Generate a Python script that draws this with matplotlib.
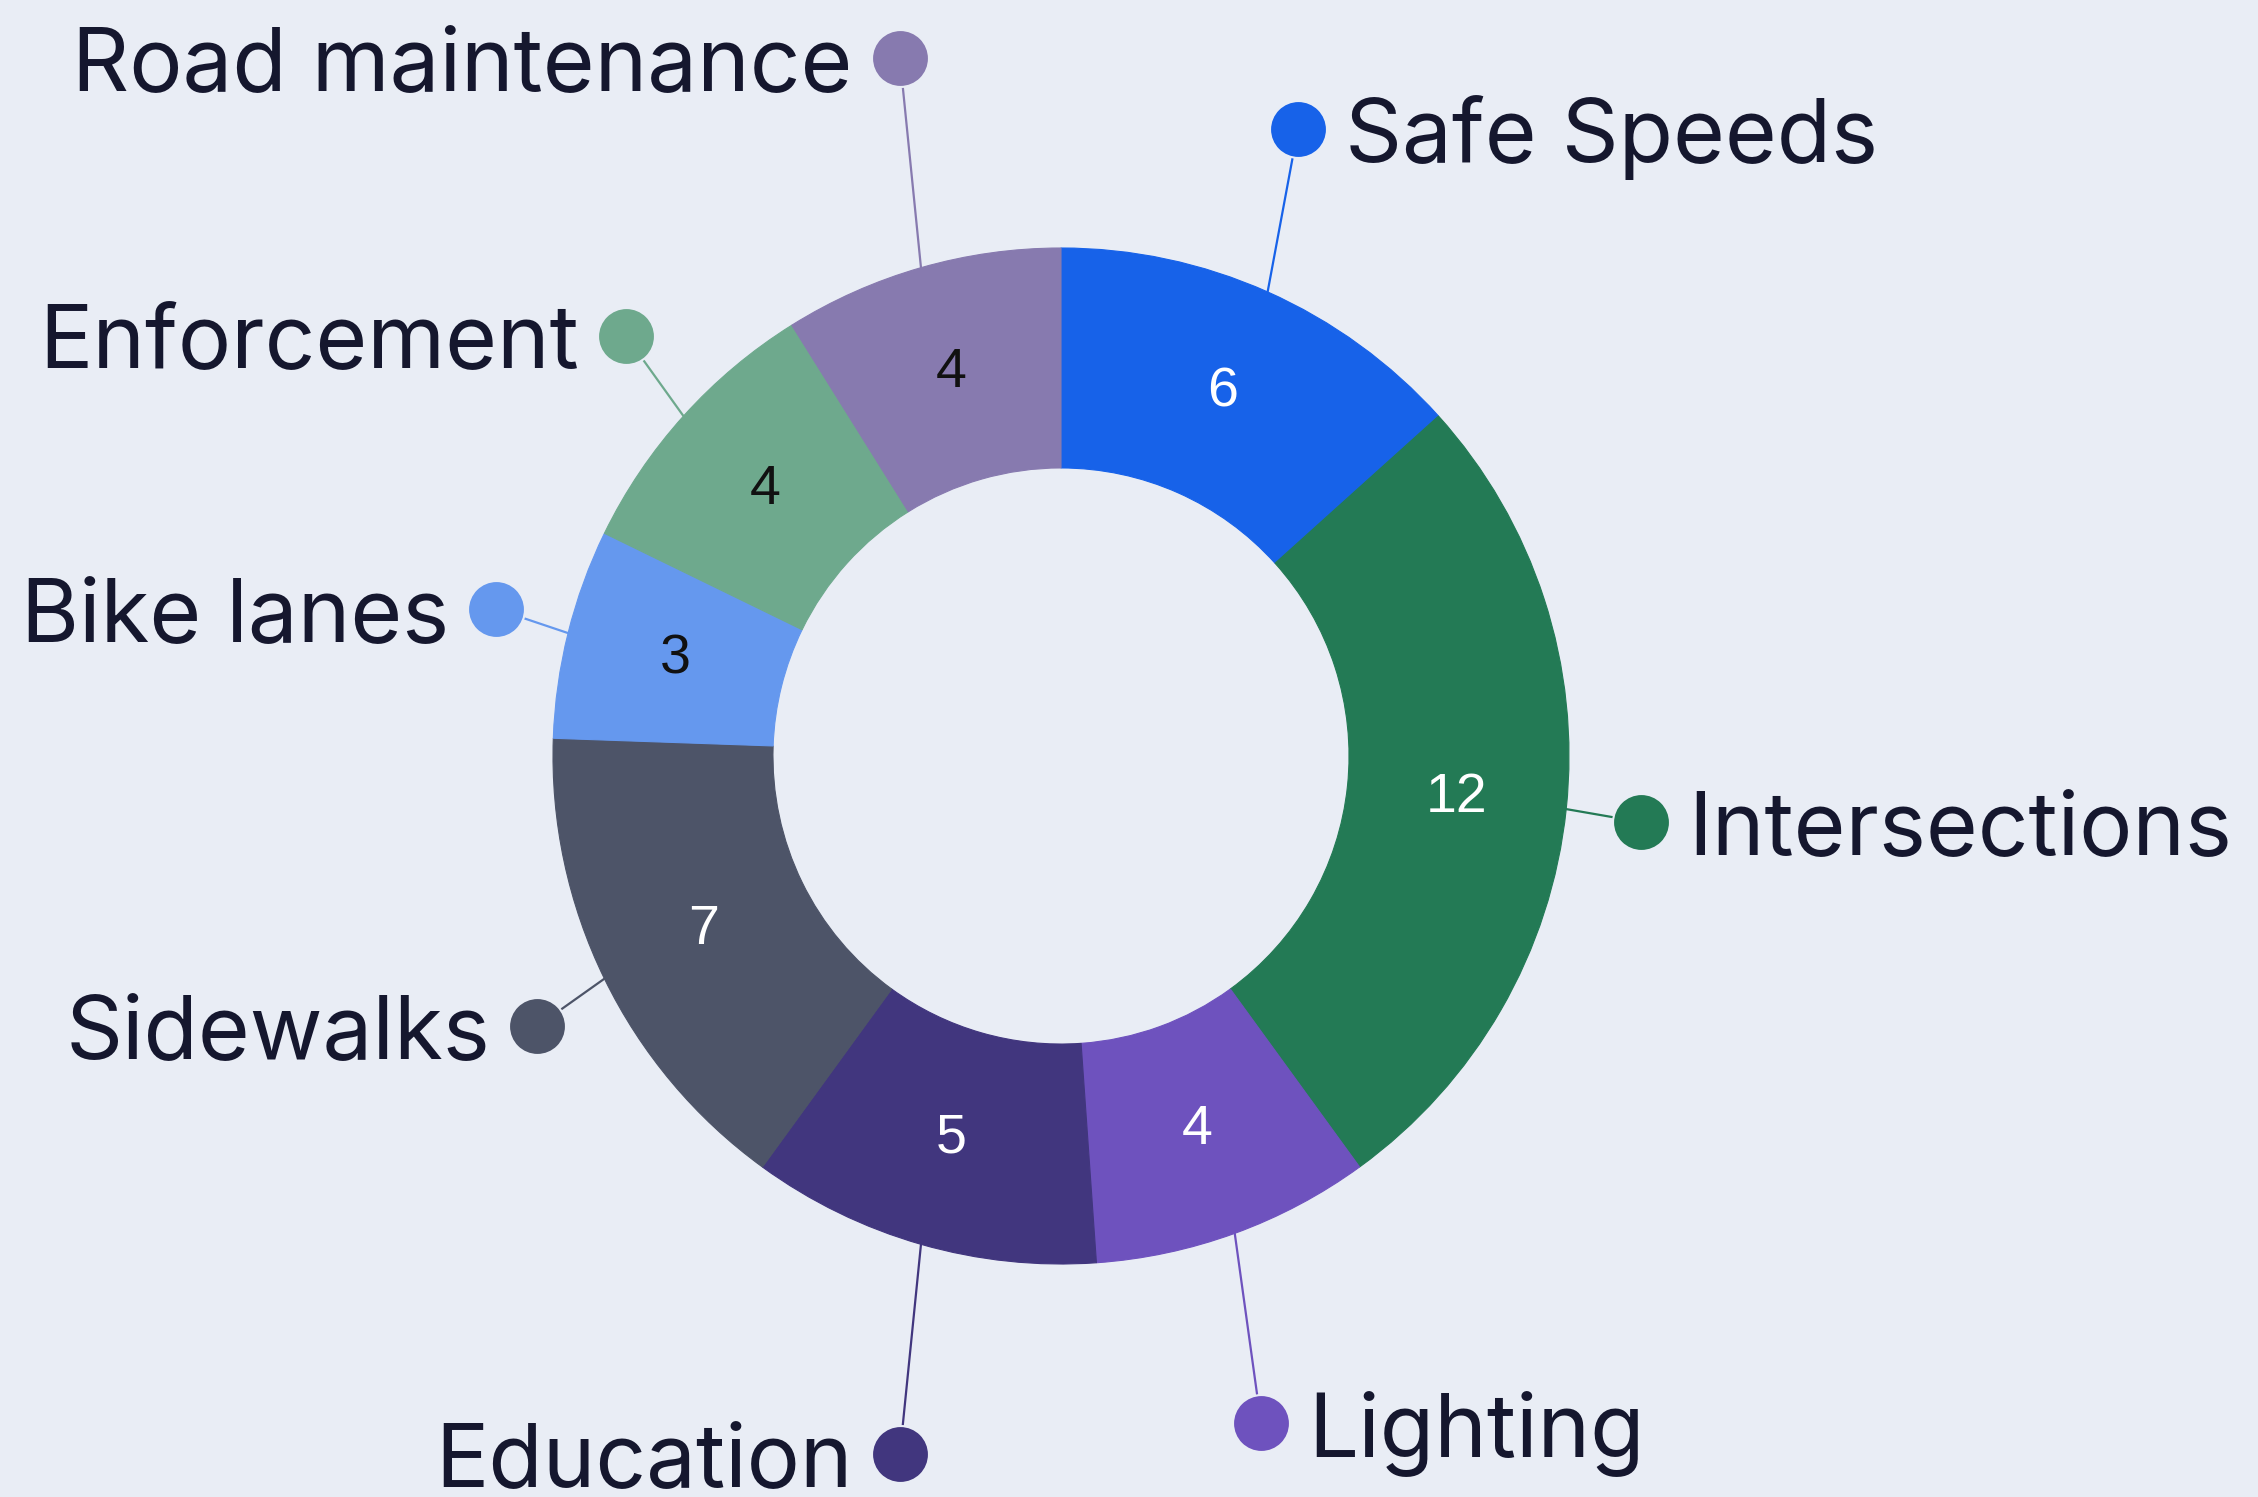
import numpy as np
import matplotlib
matplotlib.use('Agg')
import matplotlib.pyplot as plt

# data, clockwise from 12 o'clock
categories = ['Safe Speeds', 'Intersections', 'Lighting', 'Education',
              'Sidewalks', 'Bike lanes', 'Enforcement', 'Road maintenance']
values = [6, 12, 4, 5, 7, 3, 4, 4]

colors = ['#1762E9', '#237A55', '#6E52BE', '#41367E',
          '#4D5468', '#6598EE', '#6EA98D', '#877AAF']
value_colors = ['white', 'white', 'white', 'white',
                'white', '#111111', '#111111', '#111111']

# label layout: distance of the dot (in radii) and small angle nudge (deg)
label_dist = [1.32, 1.15, 1.37, 1.41, 1.16, 1.15, 1.19, 1.41]
label_nudge = [-3.3, 0.5, 3.3, -3.0, -1.3, 0.6, 2.0, 3.0]

BG = '#E9EDF5'
TXT = '#15172E'
W, H = 2258, 1497
CX, CY, R = 1061, 756, 508   # centre and outer radius in pixels
HOLE = 0.567

plt.rcParams['font.family'] = ['Inter', 'DejaVu Sans']

fig = plt.figure(figsize=(W / 100, H / 100), dpi=100, facecolor=BG)
ax = fig.add_axes([0, 0, 1, 1])
ax.set_facecolor(BG)

wedges, _ = ax.pie(values, colors=colors, startangle=90, counterclock=False,
                   radius=1, wedgeprops=dict(width=1 - HOLE, linewidth=0.8))
for w in wedges:
    w.set_edgecolor(w.get_facecolor())

ax.set_xlim(-CX / R, (W - CX) / R)
ax.set_ylim(-(H - CY) / R, CY / R)
ax.axis('off')

total = float(sum(values))
start = 0.0
mid_r = (1 + HOLE) / 2
for i, v in enumerate(values):
    mid = start + v / total * 360 / 2   # clockwise from top
    start += v / total * 360
    th = np.radians(mid)
    # value inside ring
    ax.text(mid_r * np.sin(th), mid_r * np.cos(th), str(v), color=value_colors[i],
            fontsize=40, ha='center', va='center', family='Liberation Sans')
    # leader + dot + label
    th2 = np.radians(mid + label_nudge[i])
    dx, dy = label_dist[i] * np.sin(th2), label_dist[i] * np.cos(th2)
    ex, ey = np.sin(th), np.cos(th)
    ax.plot([ex, dx], [ey, dy], color=colors[i], lw=1.6, zorder=3,
            solid_capstyle='round')
    ax.plot(dx, dy, 'o', ms=41, color=colors[i], mec=BG, mew=1.5, zorder=4)
    off = 47 / R
    if dx >= 0:
        ax.text(dx + off, dy, categories[i], ha='left', va='center_baseline',
                fontsize=64, color=TXT)
    else:
        ax.text(dx - off, dy, categories[i], ha='right', va='center_baseline',
                fontsize=64, color=TXT)

fig.savefig('out.png', dpi=100, facecolor=BG)
